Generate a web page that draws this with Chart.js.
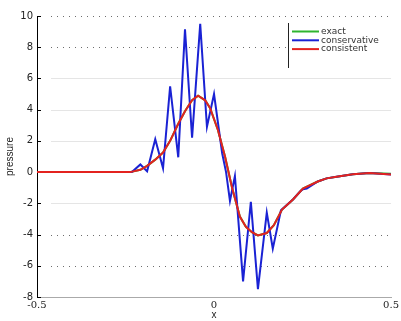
<!DOCTYPE html>
<html><head><meta charset="utf-8">
<script src="https://cdn.jsdelivr.net/npm/chart.js@4.4.1/dist/chart.umd.min.js"></script>
<style>html,body{margin:0;padding:0;background:#fff}#wrap{width:401px;height:321px}</style>
</head><body><div id="wrap"><canvas id="c" width="401" height="321"></canvas></div>
<script>
const yTicks = [10, 8, 6, 4, 2, 0, -2, -4, -6, -8];
const xTicks = [-0.5, 0, 0.5];
const seriesLabels = ['exact', 'conservative', 'consistent'];

const exactX = [-0.5, -0.3, -0.237, -0.208, -0.189, -0.166, -0.144, -0.124, -0.101, -0.082, -0.062, -0.045, -0.025, -0.011, 0.011, 0.031, 0.051, 0.073, 0.09, 0.107, 0.124, 0.149, 0.169, 0.192, 0.223, 0.251, 0.293, 0.318, 0.392, 0.439, 0.5];
const exactY = [0, 0, 0, 0.15, 0.4, 0.8, 1.25, 2.0, 3.1, 3.9, 4.6, 4.9, 4.6, 4.1, 2.7, 1.0, -1.0, -2.85, -3.5, -3.85, -4.06, -3.9, -3.4, -2.4, -1.75, -1.05, -0.6, -0.4, -0.13, -0.06, -0.1];

const consX = [-0.5, -0.3, -0.232, -0.208, -0.189, -0.166, -0.144, -0.124, -0.101, -0.082, -0.062, -0.039, -0.020, 0.0, 0.023, 0.034, 0.045, 0.059, 0.082, 0.104, 0.124, 0.149, 0.166, 0.189, 0.223, 0.245, 0.251, 0.262, 0.293, 0.318, 0.346, 0.392, 0.439, 0.5];
const consY = [0, 0, 0, 0.49, 0.05, 2.1, 0.24, 5.5, 0.95, 9.15, 2.2, 9.5, 2.9, 5.0, 1.2, 0.0, -1.85, -0.25, -7.0, -1.9, -7.5, -2.6, -4.9, -2.45, -1.75, -1.2, -1.1, -1.05, -0.6, -0.4, -0.3, -0.13, -0.06, -0.15];

const sterX = [-0.5, -0.3, -0.237, -0.208, -0.189, -0.166, -0.144, -0.124, -0.101, -0.082, -0.062, -0.045, -0.025, -0.011, 0.011, 0.031, 0.051, 0.073, 0.09, 0.107, 0.124, 0.149, 0.169, 0.192, 0.223, 0.251, 0.293, 0.318, 0.346, 0.392, 0.439, 0.5];
const sterY = [0, 0, 0, 0.15, 0.4, 0.8, 1.25, 2.0, 3.1, 3.9, 4.6, 4.9, 4.6, 4.1, 2.7, 1.0, -1.0, -2.85, -3.5, -3.85, -4.06, -3.9, -3.4, -2.4, -1.75, -1.05, -0.6, -0.4, -0.3, -0.13, -0.06, -0.15];

const colors = ['#2fb52f', '#1a22d4', '#e3231f'];

function pts(xs, ys) { return xs.map((x, i) => ({x: x, y: ys[i]})); }

const gridDark = [10, 8, -4, -6];

const decor = {
  id: 'decor',
  beforeDatasetsDraw(chart) {
    const {ctx, chartArea: a, scales: {x, y}} = chart;
    ctx.save();
    yTicks.forEach(v => {
      if (v === 0 || v === -8) return;
      const py = Math.round(y.getPixelForValue(v)) + 0.5;
      ctx.beginPath();
      if (gridDark.includes(v)) {
        ctx.strokeStyle = 'rgba(60,60,60,0.75)';
        ctx.setLineDash([1, 5]);
      } else {
        ctx.strokeStyle = 'rgba(0,0,0,0.10)';
        ctx.setLineDash([]);
      }
      ctx.lineWidth = 1;
      ctx.moveTo(a.left + 14, py);
      ctx.lineTo(a.right, py);
      ctx.stroke();
    });
    ctx.setLineDash([]);
    ctx.strokeStyle = '#000';
    ctx.lineWidth = 1;
    yTicks.forEach(v => {
      const py = Math.round(y.getPixelForValue(v)) + 0.5;
      ctx.beginPath();
      ctx.moveTo(a.left, py);
      ctx.lineTo(a.left + 4, py);
      ctx.stroke();
    });
    ctx.restore();
  },
  afterDatasetsDraw(chart) {
    const {ctx, chartArea: a} = chart;
    ctx.save();
    const bx = 288, by = 23, bw = a.right - 288, bh = 45;
    ctx.fillStyle = '#fff';
    ctx.fillRect(bx, by, bw, bh);
    ctx.strokeStyle = '#222';
    ctx.lineWidth = 1;
    ctx.beginPath();
    ctx.moveTo(bx + 0.5, by);
    ctx.lineTo(bx + 0.5, by + bh);
    ctx.stroke();
    ctx.font = '9px "DejaVu Sans", sans-serif';
    ctx.textBaseline = 'middle';
    seriesLabels.forEach((lab, i) => {
      const ry = 31.5 + i * 8.8;
      ctx.strokeStyle = colors[i];
      ctx.lineWidth = 2;
      ctx.beginPath();
      ctx.moveTo(292, ry);
      ctx.lineTo(319, ry);
      ctx.stroke();
      ctx.fillStyle = '#333';
      ctx.fillText(lab, 321, ry);
    });
    ctx.restore();
  }
};

new Chart(document.getElementById('c'), {
  type: 'scatter',
  data: {
    datasets: [
      {label: seriesLabels[0], data: pts(exactX, exactY), borderColor: colors[0], order: 3},
      {label: seriesLabels[1], data: pts(consX, consY), borderColor: colors[1], order: 2},
      {label: seriesLabels[2], data: pts(sterX, sterY), borderColor: colors[2], order: 1}
    ].map(d => Object.assign(d, {showLine: true, pointRadius: 0, borderWidth: 2, fill: false, tension: 0}))
  },
  options: {
    responsive: false,
    animation: false,
    devicePixelRatio: 1,
    layout: {padding: {left: 0, top: 16, right: 9, bottom: 0}},
    plugins: {legend: {display: false}, tooltip: {enabled: false}},
    scales: {
      x: {
        type: 'linear', min: -0.5, max: 0.5,
        afterBuildTicks: s => { s.ticks = xTicks.map(v => ({value: v})); },
        afterFit: s => { s.height = 24; },
        ticks: {color: '#222', font: {size: 10, family: '"DejaVu Serif", serif'}, padding: 2, maxRotation: 0,
          callback: v => String(v)},
        grid: {display: false, drawTicks: false},
        border: {display: true, color: '#aaa', width: 1},
        title: {display: true, text: 'x', color: '#222', font: {size: 10}, padding: {top: 0, bottom: 0}}
      },
      y: {
        type: 'linear', min: -8, max: 10,
        afterBuildTicks: s => { s.ticks = yTicks.map(v => ({value: v})); },
        afterFit: s => { s.width = 37; },
        ticks: {color: '#222', font: {size: 10, family: '"DejaVu Sans", sans-serif'}, padding: 4,
          callback: v => String(v)},
        grid: {display: false, drawTicks: false},
        border: {display: true, color: '#000', width: 1},
        title: {display: true, text: 'pressure', color: '#222', font: {size: 10}, padding: {top: 4, bottom: 0}}
      }
    }
  },
  plugins: [decor]
});
</script>
</body></html>
